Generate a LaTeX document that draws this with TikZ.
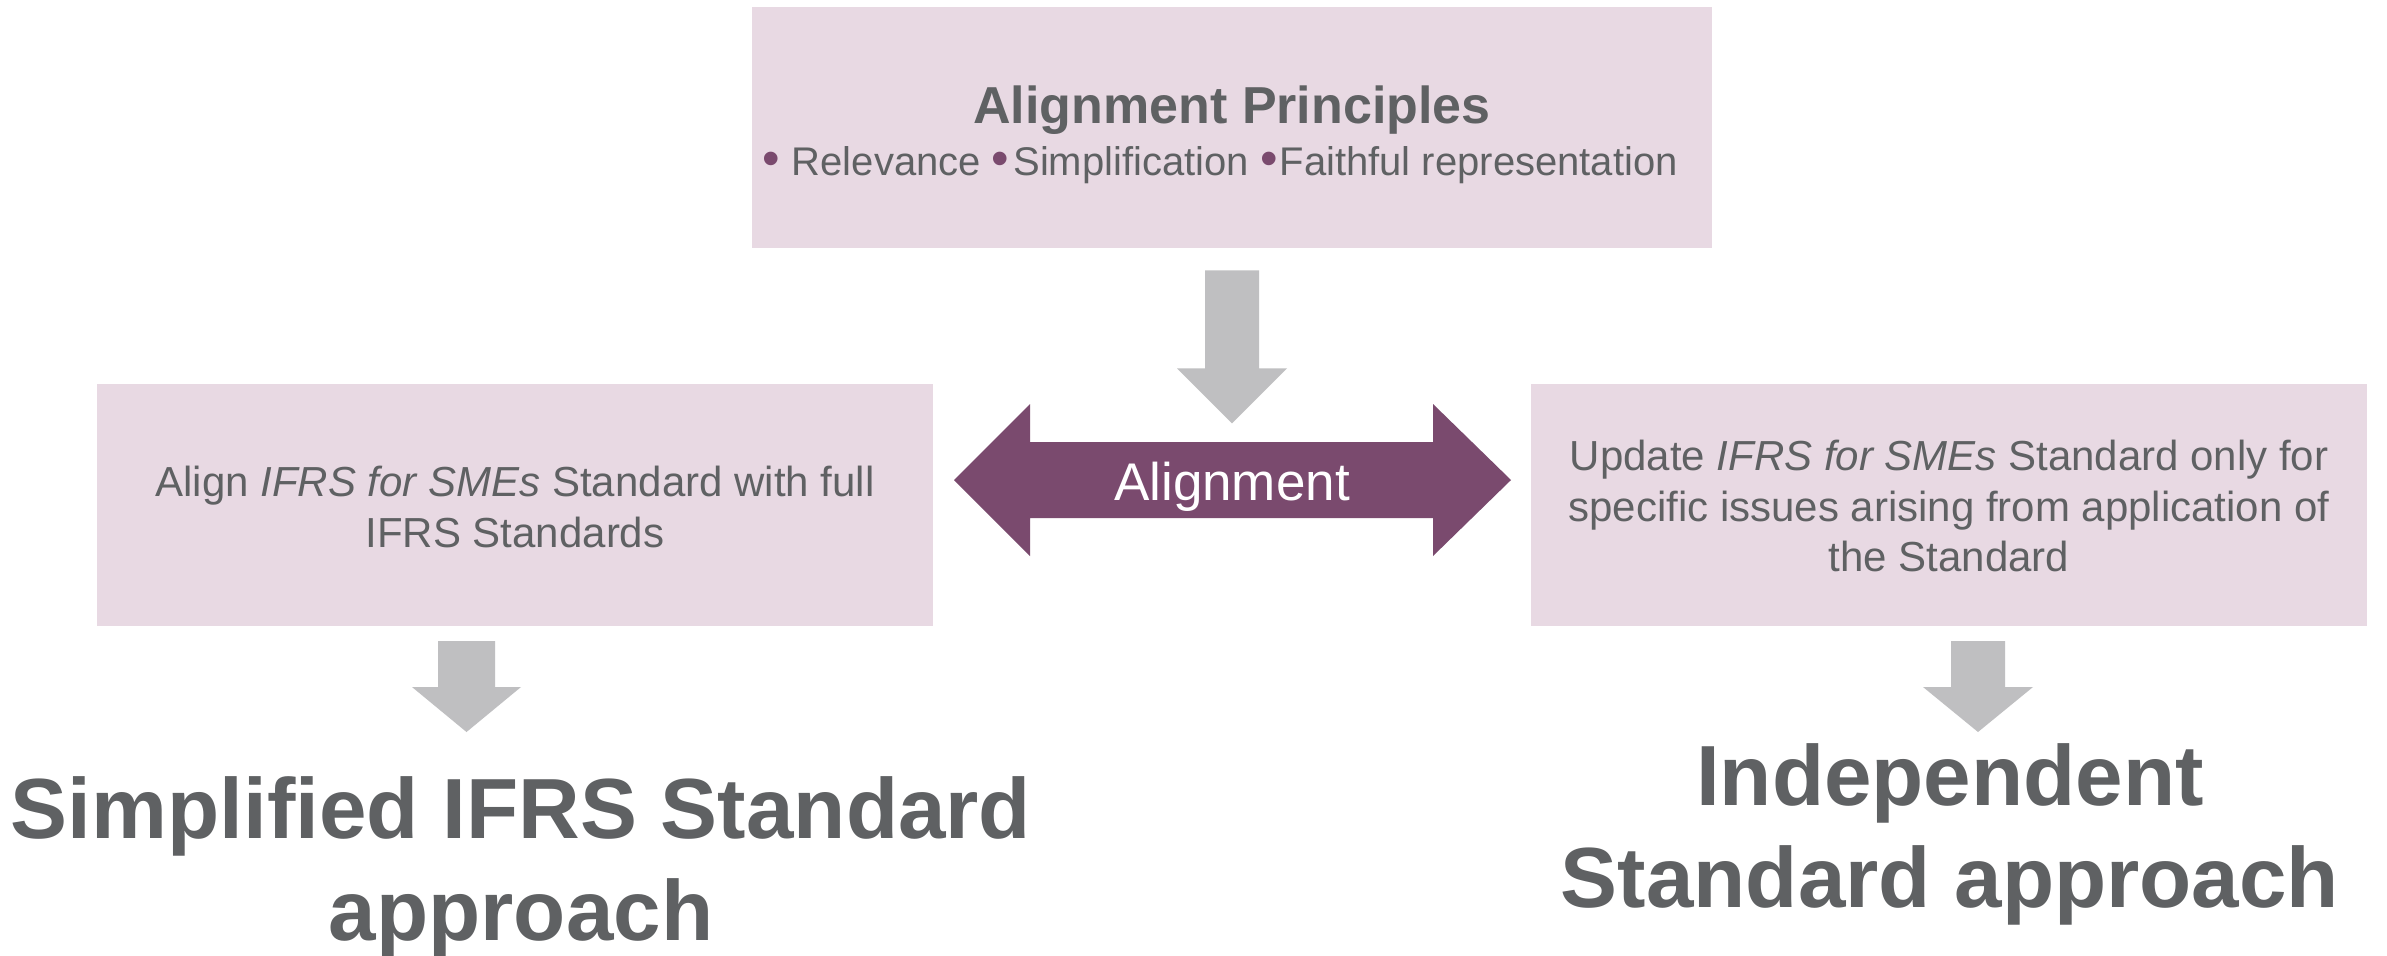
\documentclass[tikz,border=0pt]{standalone}
\usepackage{fontspec}
\setmainfont{Liberation Sans}
\usetikzlibrary{calc}
\definecolor{boxfill}{HTML}{E8D9E3}
\definecolor{txtgray}{HTML}{5F6163}
\definecolor{plum}{HTML}{7A4A6E}
\definecolor{arrowgray}{HTML}{BFBFC1}
\newcommand{\bul}{{\color{plum}\fontsize{25}{25}\selectfont •}}
\begin{document}
\begin{tikzpicture}[x=0.5pt,y=-0.5pt,
  box/.style={rectangle, fill=boxfill, draw=none, inner sep=0pt, minimum width=418pt, minimum height=121pt},
  boxline/.style={anchor=base, inner sep=0pt, text=txtgray, font=\fontsize{21}{25}\selectfont},
  titleline/.style={anchor=base, inner sep=0pt, text=txtgray, font=\fontsize{26}{30}\selectfont\bfseries},
  bigline/.style={anchor=base, inner sep=0pt, text=txtgray, font=\fontsize{42.7}{51}\selectfont\bfseries},
  grayarrow/.style={fill=arrowgray, draw=none},
  plumarrow/.style={fill=plum, draw=none}]
\fill[white] (0,0) rectangle (2387,955);
\useasboundingbox (0,0) rectangle (2387,955);

% boxes
\node[box, minimum width=480pt, minimum height=120.5pt] (top) at (1232,127.5) {};
\node[box] (left) at (515,505) {};
\node[box] (right) at (1949,505) {};

% top box text
\node[boxline, font=\fontsize{26}{30}\selectfont\bfseries] (title) at (1232,123) {Alignment Principles};
\node[boxline, font=\fontsize{20}{24}\selectfont] (bullets) at (1220,175)
  {\bul\hspace{6pt}Relevance \bul\hspace{2pt}Simplification \bul\hspace{1pt}Faithful representation};

% left box text
\node[boxline] (l1) at (515,496) {Align \textit{IFRS for SMEs} Standard with full};
\node[boxline] (l2) at (515,547) {IFRS Standards};

% right box text
\node[boxline] (r1) at (1949,470) {Update \textit{IFRS for SMEs} Standard only for};
\node[boxline] (r2) at (1949,521) {specific issues arising from application of};
\node[boxline] (r3) at (1949,571) {the Standard};

% down arrow from principles to alignment
\fill[grayarrow] ($(top.south)+(-27,22)$) -- ($(top.south)+(27,22)$) -- ($(top.south)+(27,120)$)
  -- ($(top.south)+(55,120)$) -- ($(top.south)+(0,175)$) -- ($(top.south)+(-55,120)$)
  -- ($(top.south)+(-27,120)$) -- cycle;

% double arrow
\coordinate (dl) at (954,480);
\coordinate (dr) at (1511,480);
\fill[plumarrow] (dl) -- ($(dl)+(76,-76)$) -- ($(dl)+(76,-38)$) -- ($(dr)+(-78,-38)$)
  -- ($(dr)+(-78,-76)$) -- (dr) -- ($(dr)+(-78,76)$) -- ($(dr)+(-78,38)$)
  -- ($(dl)+(76,38)$) -- ($(dl)+(76,76)$) -- cycle;
\node[anchor=base, inner sep=0pt, text=white, font=\fontsize{26.5}{30}\selectfont] (align) at (1232,500) {Alignment};

% lower arrows
\coordinate (la) at (466.5,641);
\fill[grayarrow] ($(la)+(-28.5,0)$) -- ($(la)+(28.5,0)$) -- ($(la)+(28.5,46)$) -- ($(la)+(54.5,46)$)
  -- ($(la)+(0,91)$) -- ($(la)+(-54.5,46)$) -- ($(la)+(-28.5,46)$) -- cycle;
\coordinate (ra) at (1978,641);
\fill[grayarrow] ($(ra)+(-27,0)$) -- ($(ra)+(27,0)$) -- ($(ra)+(27,46)$) -- ($(ra)+(55,46)$)
  -- ($(ra)+(0,91)$) -- ($(ra)+(-55,46)$) -- ($(ra)+(-27,46)$) -- cycle;

% outcomes
\node[bigline] (s1) at (521,838) {Simplified IFRS Standard};
\node[bigline] (s2) at (521,940) {approach};
\node[bigline] (i1) at (1950,805) {Independent};
\node[bigline] (i2) at (1950,907) {Standard approach};
\end{tikzpicture}
\end{document}
